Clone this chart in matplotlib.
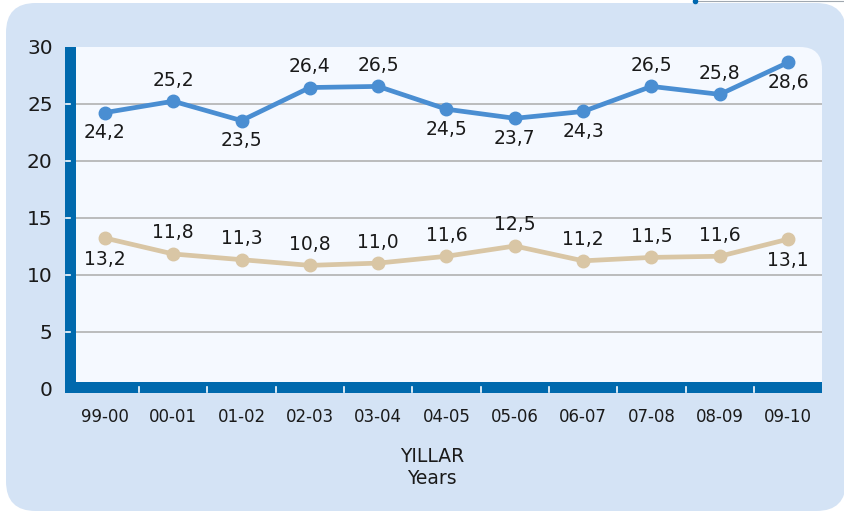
import matplotlib
matplotlib.use("Agg")
import matplotlib.pyplot as plt
from matplotlib.patches import FancyBboxPatch, Rectangle
from matplotlib.lines import Line2D

categories = ["99-00", "00-01", "01-02", "02-03", "03-04", "04-05",
              "05-06", "06-07", "07-08", "08-09", "09-10"]
series_blue = [24.2, 25.2, 23.5, 26.4, 26.5, 24.5, 23.7, 24.3, 26.5, 25.8, 28.6]
series_beige = [13.2, 11.8, 11.3, 10.8, 11.0, 11.6, 12.5, 11.2, 11.5, 11.6, 13.1]
blue_label_pos = ["below", "above", "below", "above", "above", "below",
                  "below", "below", "above", "above", "below"]
beige_label_pos = ["below", "above", "above", "above", "above", "above",
                   "above", "above", "above", "above", "below"]
yticks = [0, 5, 10, 15, 20, 25, 30]

W, H = 845, 513
fig = plt.figure(figsize=(W / 100, H / 100), dpi=100)
fig.patch.set_facecolor("white")

def fx(px):
    return px / W

def fy(py):
    return 1 - py / H

# outer light-blue panel
panel = FancyBboxPatch((fx(6), fy(511)), fx(846) - fx(6), fy(3) - fy(511),
                       boxstyle="round,pad=0,rounding_size=0.035",
                       transform=fig.transFigure, facecolor="#D4E3F5",
                       edgecolor="none", zorder=0, mutation_aspect=W / H)
fig.patches.append(panel)
# small artifact line at top right
fig.lines.append(Line2D([fx(695), fx(845)], [fy(1), fy(1)], transform=fig.transFigure,
                        color="#A0A8B0", lw=0.8, zorder=1))
fig.lines.append(Line2D([fx(695)], [fy(1)], transform=fig.transFigure,
                        marker="o", ms=3, color="#0068B0", zorder=1))

# plot area background with rounded top-right corner
area_l, area_r, area_t, area_b = 76, 822, 47, 382
bg = FancyBboxPatch((fx(area_l), fy(area_b)), fx(area_r) - fx(area_l), fy(area_t) - fy(area_b),
                    boxstyle="round,pad=0,rounding_size=0.026",
                    transform=fig.transFigure, facecolor="#F5F9FF",
                    edgecolor="none", zorder=1, mutation_aspect=W / H)
fig.patches.append(bg)
fig.patches.append(Rectangle((fx(area_l), fy(area_b)), fx(area_r - 40) - fx(area_l),
                             fy(area_t) - fy(area_b), transform=fig.transFigure,
                             facecolor="#F5F9FF", edgecolor="none", zorder=1))
fig.patches.append(Rectangle((fx(area_l), fy(area_b)), fx(area_r) - fx(area_l),
                             fy(area_t + 40) - fy(area_b), transform=fig.transFigure,
                             facecolor="#F5F9FF", edgecolor="none", zorder=1))

ax_left, ax_right = 70.7, 822.3
ax_top, ax_bot = 46.5, 388.5
ax = fig.add_axes([fx(ax_left), fy(ax_bot), fx(ax_right) - fx(ax_left), fy(ax_top) - fy(ax_bot)])
ax.set_facecolor("none")
ax.set_zorder(3)
for s in ax.spines.values():
    s.set_visible(False)

x = list(range(len(categories)))
ax.set_xlim(-0.5, len(categories) - 0.5)
ax.set_ylim(0, 30)

for yv in yticks[1:-1]:
    ax.axhline(yv, color="#ABABAB", lw=1.1, zorder=1)

blue = "#4A8ED2"
beige = "#D9C6A5"
ax.plot(x, series_blue, color=blue, lw=3.4, marker="o", ms=9, zorder=4, clip_on=False)
ax.plot(x, series_beige, color=beige, lw=3.4, marker="o", ms=9, zorder=4, clip_on=False)

def fmt(v):
    return f"{v:.1f}".replace(".", ",")

for xi, v, p in zip(x, series_blue, blue_label_pos):
    off = 21 if p == "above" else -20
    ax.annotate(fmt(v), (xi, v), xytext=(0, off), textcoords="offset pixels",
                ha="center", va="center", fontsize=13.5, color="#1A1A1A", zorder=5)
for xi, v, p in zip(x, series_beige, beige_label_pos):
    off = 21 if p == "above" else -21
    ax.annotate(fmt(v), (xi, v), xytext=(0, off), textcoords="offset pixels",
                ha="center", va="center", fontsize=13.5, color="#1A1A1A", zorder=5)

ax.set_xticks(x)
ax.set_xticklabels(categories, fontsize=12, color="#1A1A1A")
ax.set_yticks(yticks)
ax.set_yticklabels([str(t) for t in yticks], fontsize=14.5, color="#1A1A1A")
ax.tick_params(axis="both", length=0)
ax.tick_params(axis="x", pad=14)
ax.tick_params(axis="y", pad=13)

# thick blue spines
spine_col = "#0069AD"
fig.patches.append(Rectangle((fx(65), fy(393)), fx(76) - fx(65), fy(47) - fy(393),
                             transform=fig.transFigure, facecolor=spine_col,
                             edgecolor="none", zorder=5))
fig.patches.append(Rectangle((fx(65), fy(393)), fx(822) - fx(65), fy(382) - fy(393),
                             transform=fig.transFigure, facecolor=spine_col,
                             edgecolor="none", zorder=5))
for yv in yticks[1:-1]:
    py = ax_bot - (ax_bot - ax_top) * yv / 30
    fig.lines.append(Line2D([fx(66), fx(70)], [fy(py), fy(py)], transform=fig.transFigure,
                            color="white", lw=1.2, zorder=6))
for k in range(1, len(categories)):
    px = ax_left + (ax_right - ax_left) * k / len(categories)
    fig.lines.append(Line2D([fx(px), fx(px)], [fy(387), fy(392)], transform=fig.transFigure,
                            color="white", lw=1.2, zorder=6))

fig.text(fx(432), fy(456), "YILLAR", ha="center", va="center", fontsize=13.5, color="#1A1A1A")
fig.text(fx(432), fy(478), "Years", ha="center", va="center", fontsize=13.5, color="#1A1A1A")

fig.savefig("out.png", dpi=100)
